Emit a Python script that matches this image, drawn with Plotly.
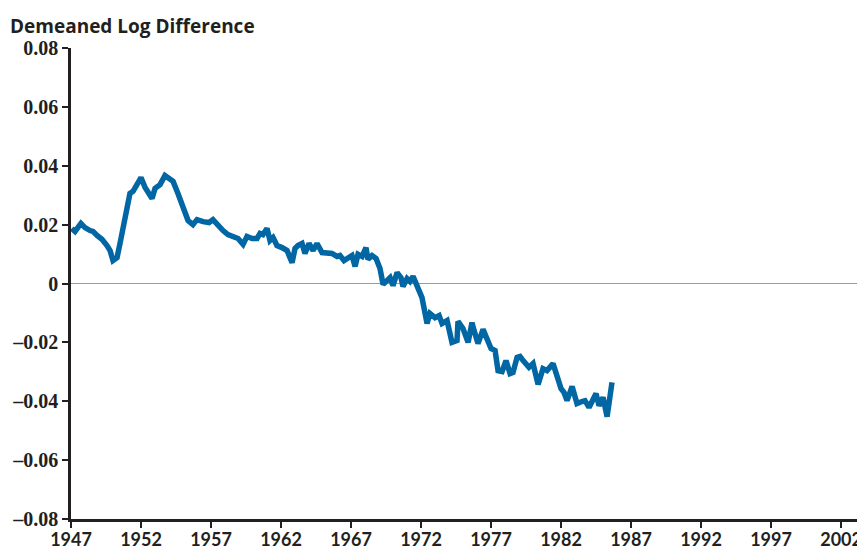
import plotly.graph_objects as go

# quarterly readings (decimal year, demeaned log difference)
years = [1947.05, 1947.29, 1947.71, 1948.0, 1948.36, 1948.57, 1948.86, 1949.21, 1949.57, 1949.79,
         1950.0, 1950.29, 1950.5, 1950.86, 1951.21, 1951.43, 1951.71, 1952.0, 1952.29, 1952.5,
         1952.79, 1953.0, 1953.36, 1953.71, 1954.07, 1954.29, 1954.64, 1955.0, 1955.36, 1955.71,
         1956.0, 1956.43, 1956.86, 1957.14, 1957.5, 1957.86, 1958.21, 1958.57, 1958.93, 1959.29,
         1959.57, 1959.93, 1960.29, 1960.5, 1960.71, 1961.0, 1961.21, 1961.43, 1961.71, 1962.07,
         1962.43, 1962.79, 1963.0, 1963.21, 1963.5, 1963.71, 1964.0, 1964.29, 1964.57, 1964.93,
         1965.29, 1965.64, 1966.0, 1966.21, 1966.5, 1966.71, 1967.07, 1967.29, 1967.5, 1967.79,
         1968.07, 1968.21, 1968.5, 1968.79, 1969.07, 1969.29, 1969.79, 1970.0, 1970.29, 1970.57,
         1970.71, 1971.0, 1971.21, 1971.43, 1971.79, 1972.07, 1972.43, 1972.64, 1973.0, 1973.29,
         1973.5, 1973.86, 1974.21, 1974.57, 1974.64, 1975.0, 1975.36, 1975.64, 1975.79, 1976.07,
         1976.43, 1976.71, 1977.0, 1977.29, 1977.5, 1977.79, 1978.07, 1978.36, 1978.57, 1978.86,
         1979.07, 1979.29, 1979.71, 1980.0, 1980.36, 1980.71, 1981.0, 1981.43, 1981.71, 1982.0,
         1982.21, 1982.43, 1982.79, 1983.14, 1983.5, 1983.71, 1984.0, 1984.29, 1984.5, 1984.71,
         1985.0, 1985.29, 1985.64]
values = [0.0187, 0.0177, 0.0204, 0.0190, 0.0180, 0.0177, 0.0163, 0.0150, 0.0129, 0.0112,
          0.0078, 0.0088, 0.0136, 0.0220, 0.0306, 0.0313, 0.0340, 0.0360, 0.0326, 0.0310,
          0.0289, 0.0323, 0.0336, 0.0367, 0.0353, 0.0347, 0.0306, 0.0255, 0.0214, 0.0200,
          0.0217, 0.0210, 0.0207, 0.0217, 0.0197, 0.0180, 0.0166, 0.0160, 0.0153, 0.0133,
          0.0160, 0.0153, 0.0153, 0.0170, 0.0166, 0.0187, 0.0146, 0.0156, 0.0129, 0.0122,
          0.0112, 0.0071, 0.0119, 0.0129, 0.0136, 0.0102, 0.0136, 0.0112, 0.0136, 0.0105,
          0.0102, 0.0102, 0.0092, 0.0095, 0.0078, 0.0085, 0.0095, 0.0058, 0.0099, 0.0092,
          0.0122, 0.0082, 0.0095, 0.0085, 0.0051, -0.0003, 0.0020, -0.0007, 0.0037, 0.0020,
          -0.0010, 0.0017, 0.0007, 0.0024, -0.0017, -0.0048, -0.0136, -0.0102, -0.0116, -0.0109,
          -0.0136, -0.0126, -0.0200, -0.0194, -0.0129, -0.0153, -0.0200, -0.0133, -0.0160, -0.0204,
          -0.0156, -0.0194, -0.0221, -0.0228, -0.0296, -0.0299, -0.0262, -0.0306, -0.0302, -0.0251,
          -0.0248, -0.0262, -0.0285, -0.0272, -0.0343, -0.0289, -0.0296, -0.0272, -0.0319, -0.0357,
          -0.0370, -0.0398, -0.0350, -0.0408, -0.0401, -0.0398, -0.0421, -0.0391, -0.0374, -0.0415,
          -0.0387, -0.0452, -0.0336, -0.0323, -0.0326]

x_ticks = list(range(1947, 2003, 5))
y_ticks = [-0.08, -0.06, -0.04, -0.02, 0, 0.02, 0.04, 0.06, 0.08]
y_labels = ["–0.08", "–0.06", "–0.04", "–0.02", "0", "0.02", "0.04", "0.06", "0.08"]

fig = go.Figure()
fig.add_trace(go.Scatter(x=years, y=values, mode="lines",
                         line=dict(color="#0066a4", width=5.5), showlegend=False))

# the page body adds an 8px margin, so the figure is a bit smaller than the window
fig.update_layout(
    width=857, height=542,
    margin=dict(l=63, r=0, t=40, b=31),
    plot_bgcolor="white", paper_bgcolor="white",
    font=dict(family="Lato", size=18, color="#231f20"),
)
fig.update_xaxes(range=[1947, 2003.71], tickvals=x_ticks, showgrid=False, zeroline=False,
                 showline=True, linecolor="#231f20", linewidth=2.5, automargin=False,
                 ticks="outside", ticklen=6, tickwidth=2, tickcolor="#231f20",
                 ticklabelstandoff=-3, tickfont=dict(size=18, weight="bold"))
fig.update_yaxes(range=[-0.08, 0.08], tickvals=y_ticks, ticktext=y_labels, showgrid=False,
                 zeroline=True, zerolinecolor="#9a9a9a", zerolinewidth=1.2,
                 showline=True, linecolor="#231f20", linewidth=2.5, automargin=False,
                 ticks="outside", ticklen=6, tickwidth=2, tickcolor="#231f20",
                 tickfont=dict(family="Liberation Serif", size=20, weight="bold"))

fig.add_annotation(text="Demeaned Log Difference", xref="paper", yref="paper",
                   x=-63/794, y=1, yshift=22, xanchor="left", yanchor="middle",
                   showarrow=False, font=dict(family="Open Sans", size=19, weight="bold"))

fig.write_html("out.html")
